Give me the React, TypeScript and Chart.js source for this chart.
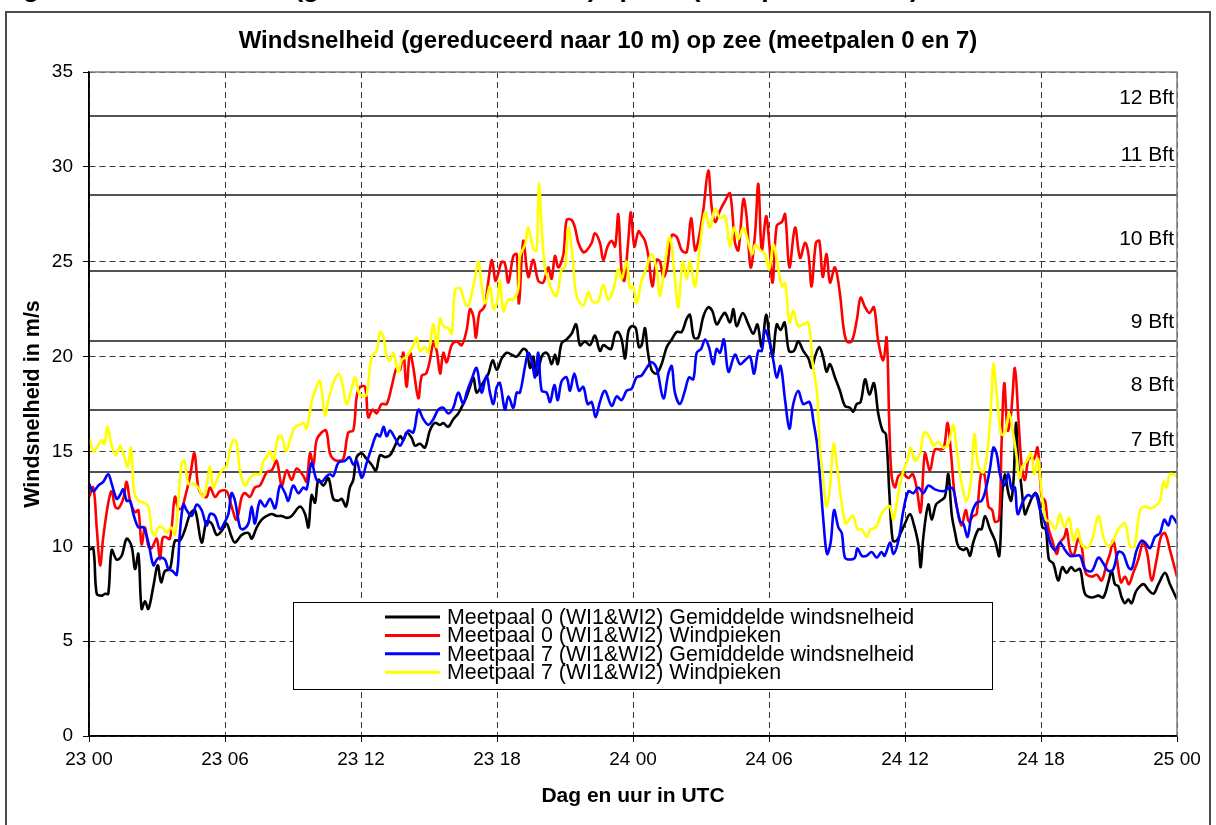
import React, { useEffect, useRef } from "react";
import { Chart, registerables } from "chart.js";

Chart.register(...registerables);

const FONT = '"Liberation Sans", Arial, Helvetica, sans-serif';

const pageCaption = "Figuur 3: Windsnelheid (gereduceerd naar 10 m) op zee (meetpalen 0 en 7)";
const chartTitle = "Windsnelheid (gereduceerd naar 10 m) op zee (meetpalen 0 en 7)";
const xAxisTitle = "Dag en uur in UTC";
const yAxisTitle = "Windsnelheid in m/s";
const xTickLabels = ["23 00", "23 06", "23 12", "23 18", "24 00", "24 06", "24 12", "24 18", "25 00"];

const seriesLabels = [
  "Meetpaal 0 (WI1&WI2) Gemiddelde windsnelheid",
  "Meetpaal 0 (WI1&WI2) Windpieken",
  "Meetpaal 7 (WI1&WI2) Gemiddelde windsnelheid",
  "Meetpaal 7 (WI1&WI2) Windpieken",
];
const seriesColors = ["#000000", "#FF0000", "#0000FF", "#FFFF00"];

const beaufortLimits = [13.9, 17.2, 20.8, 24.5, 28.5, 32.7];
const beaufortNames = ["7 Bft", "8 Bft", "9 Bft", "10 Bft", "11 Bft", "12 Bft"];
const beaufortLabelAt = [15.6, 18.5, 21.8, 26.2, 30.6, 33.6];

// [hour since 23 00 UTC, m/s]
const meetpaal0Gemiddeld: [number, number][] = [
  [0, 9.8], [0.19, 9.9], [0.34, 7.5], [0.56, 7.4], [0.71, 7.5], [0.85, 7.5], [1, 9.8], [1.22, 9.3], [1.44, 9.5], [1.66, 10.4],
  [1.88, 10.0], [2.03, 8.8], [2.18, 9.6], [2.32, 6.7], [2.47, 7.1], [2.62, 6.7], [2.84, 7.9], [3.03, 9.0], [3.18, 8.1], [3.35, 8.7],
  [3.57, 8.8], [3.79, 10.3], [4.01, 10.3], [4.24, 10.9], [4.46, 11.7], [4.68, 11.9], [4.97, 10.2], [5.19, 11.3], [5.41, 11.2], [5.63, 10.6],
  [5.85, 10.8], [6.07, 11.2], [6.29, 10.5], [6.44, 10.2], [6.74, 10.6], [7.03, 10.7], [7.18, 10.4], [7.4, 11.0], [7.62, 11.4], [7.84, 11.6],
  [8.06, 11.7], [8.28, 11.6], [8.5, 11.6], [8.72, 11.5], [8.94, 11.6], [9.31, 12.1], [9.53, 11.7], [9.68, 11.0], [9.82, 12.7], [9.97, 12.3],
  [10.12, 13.5], [10.34, 13.2], [10.56, 13.6], [10.78, 12.5], [11, 12.4], [11.15, 12.5], [11.34, 12.1], [11.51, 13.1], [11.66, 13.5], [11.81, 14.7],
  [12.03, 14.9], [12.25, 14.6], [12.47, 14.3], [12.66, 14.0], [12.84, 14.8], [13.06, 14.7], [13.28, 14.8], [13.5, 15.3], [13.72, 15.8], [13.87, 15.6],
  [14.01, 16.0], [14.24, 15.7], [14.38, 15.3], [14.6, 15.4], [14.82, 15.2], [15.04, 16.1], [15.26, 16.5], [15.49, 16.4], [15.63, 16.5], [15.85, 16.3],
  [16.07, 16.7], [16.29, 17.0], [16.51, 17.5], [16.66, 17.9], [16.81, 18.4], [16.96, 18.9], [17.1, 18.1], [17.32, 18.5], [17.47, 18.8], [17.62, 19.1],
  [17.81, 19.8], [17.99, 19.3], [18.21, 19.9], [18.43, 20.2], [18.65, 20.1], [18.87, 20.0], [19.16, 20.4], [19.31, 20.3], [19.46, 19.4], [19.6, 20.0],
  [19.75, 19.0], [19.97, 20.0], [20.12, 20.2], [20.26, 20.1], [20.41, 19.6], [20.56, 20.1], [20.68, 19.6], [20.85, 20.7], [21.07, 20.9], [21.29, 21.2],
  [21.49, 21.7], [21.66, 20.6], [21.88, 20.8], [22.1, 20.6], [22.32, 21.1], [22.54, 20.3], [22.69, 20.6], [22.84, 20.5], [23.03, 20.4], [23.21, 21.2],
  [23.35, 21.3], [23.5, 20.9], [23.65, 19.9], [23.79, 21.3], [23.94, 21.6], [24.12, 21.5], [24.26, 20.5], [24.38, 20.6], [24.53, 21.5], [24.65, 20.3],
  [24.82, 19.3], [25.04, 19.1], [25.26, 19.6], [25.49, 20.5], [25.71, 20.9], [25.93, 21.3], [26.15, 21.3], [26.37, 22.0], [26.51, 22.2], [26.69, 21.0],
  [26.88, 21.0], [27.1, 22.1], [27.32, 22.6], [27.5, 22.4], [27.69, 21.7], [27.91, 22.1], [28.06, 22.3], [28.28, 21.8], [28.43, 22.5], [28.57, 21.6],
  [28.84, 22.3], [29.09, 21.7], [29.31, 21.2], [29.49, 21.7], [29.68, 20.5], [29.87, 22.2], [30.04, 20.8], [30.16, 20.0], [30.34, 21.7], [30.51, 21.4],
  [30.69, 21.8], [30.88, 20.3], [31.1, 20.3], [31.29, 20.8], [31.51, 20.3], [31.74, 19.9], [31.88, 19.4], [32.03, 20.0], [32.22, 20.5], [32.4, 19.9],
  [32.54, 19.2], [32.69, 19.6], [32.91, 18.9], [33.13, 18.2], [33.35, 17.4], [33.57, 17.3], [33.72, 17.1], [33.87, 17.5], [34.04, 17.6], [34.24, 18.8],
  [34.43, 18.0], [34.63, 18.6], [34.82, 17.0], [35.01, 16.1], [35.16, 15.9], [35.31, 12.8], [35.46, 10.3], [35.63, 10.3], [35.81, 10.7], [36.0, 11.2],
  [36.22, 11.7], [36.4, 11.1], [36.59, 10.1], [36.69, 8.9], [36.81, 10.5], [37.03, 12.2], [37.18, 11.4], [37.37, 12.2], [37.57, 12.4], [37.76, 12.6],
  [37.91, 13.8], [38.06, 11.7], [38.21, 10.7], [38.35, 10.0], [38.57, 9.8], [38.72, 9.9], [38.87, 9.5], [39.01, 10.2], [39.24, 10.9], [39.38, 10.9],
  [39.53, 11.6], [39.75, 10.9], [39.97, 10.3], [40.16, 9.5], [40.29, 12.8], [40.41, 13.8], [40.56, 12.8], [40.68, 12.4], [40.79, 13.5], [40.9, 16.5],
  [41.0, 14.2], [41.1, 13.5], [41.29, 11.7], [41.44, 12.1], [41.62, 12.6], [41.76, 12.8], [41.91, 12.4], [42.06, 11.0], [42.21, 10.9], [42.35, 9.3],
  [42.54, 9.1], [42.76, 8.2], [42.94, 8.9], [43.13, 8.6], [43.32, 8.9], [43.5, 8.7], [43.72, 8.8], [43.94, 7.5], [44.24, 7.3], [44.53, 7.4],
  [44.75, 7.3], [44.97, 8.1], [45.12, 8.7], [45.26, 8.0], [45.41, 7.9], [45.56, 7.3], [45.71, 7.0], [45.85, 7.2], [46.0, 7.0], [46.18, 7.6],
  [46.37, 7.9], [46.54, 8.0], [46.74, 7.7], [46.96, 7.5], [47.18, 8.0], [47.47, 8.6], [47.69, 8.0], [48, 7.2],
];

const meetpaal0Pieken: [number, number][] = [
  [0, 12.6], [0.19, 13.1], [0.34, 11.0], [0.49, 9.0], [0.63, 10.5], [0.85, 12.3], [1, 12.9], [1.15, 12.1], [1.29, 12.0], [1.51, 12.5],
  [1.66, 13.4], [1.81, 12.4], [2.03, 11.8], [2.18, 11.9], [2.32, 10.1], [2.47, 11.0], [2.62, 10.0], [2.76, 9.9], [2.99, 10.4], [3.13, 9.3],
  [3.24, 10.4], [3.35, 10.5], [3.57, 10.4], [3.79, 12.6], [3.94, 12.0], [4.09, 12.0], [4.24, 12.6], [4.46, 13.7], [4.65, 14.9], [4.82, 13.1],
  [5.0, 12.7], [5.19, 12.6], [5.34, 13.1], [5.56, 12.6], [5.78, 12.9], [6.07, 12.9], [6.29, 12.1], [6.51, 11.4], [6.74, 12.6], [6.88, 12.8],
  [7.1, 12.6], [7.32, 13.1], [7.54, 13.2], [7.84, 13.9], [8.06, 14.0], [8.28, 14.5], [8.5, 13.2], [8.72, 14.0], [8.94, 13.5], [9.16, 14.1],
  [9.46, 13.7], [9.6, 13.4], [9.75, 14.9], [9.9, 14.3], [10.04, 15.6], [10.26, 16.0], [10.46, 16.1], [10.63, 14.9], [10.78, 14.6], [11.0, 14.5],
  [11.22, 14.6], [11.44, 16.0], [11.66, 16.1], [11.81, 17.9], [11.96, 18.4], [12.18, 18.4], [12.32, 16.8], [12.51, 17.2], [12.69, 17.0], [12.91, 17.5],
  [13.13, 17.5], [13.35, 18.4], [13.57, 19.4], [13.72, 19.3], [13.87, 20.2], [14.01, 18.4], [14.16, 20.2], [14.31, 19.4], [14.53, 17.8], [14.68, 19.0],
  [14.87, 19.1], [15.04, 19.8], [15.19, 20.7], [15.34, 20.3], [15.49, 19.1], [15.63, 20.2], [15.78, 19.7], [16.0, 20.6], [16.22, 20.8], [16.44, 20.6],
  [16.66, 21.4], [16.81, 22.5], [16.96, 22.1], [17.07, 21.0], [17.22, 22.3], [17.37, 22.5], [17.47, 22.7], [17.62, 24.0], [17.78, 25.1], [17.93, 24.0],
  [18.06, 24.4], [18.21, 25.0], [18.35, 24.9], [18.5, 23.9], [18.72, 25.3], [18.87, 25.4], [18.97, 22.8], [19.16, 26.1], [19.38, 24.2], [19.6, 25.1],
  [19.82, 24.0], [20.04, 23.9], [20.26, 24.7], [20.41, 24.1], [20.56, 25.3], [20.71, 24.7], [20.93, 25.4], [21.07, 27.2], [21.29, 27.2], [21.44, 26.8],
  [21.59, 26.0], [21.81, 25.5], [21.96, 25.6], [22.18, 26.0], [22.32, 26.5], [22.54, 26.0], [22.69, 25.1], [22.88, 25.8], [23.06, 26.1], [23.21, 25.8],
  [23.35, 27.5], [23.5, 24.4], [23.62, 24.0], [23.79, 26.1], [23.91, 27.6], [24.06, 25.8], [24.24, 26.6], [24.38, 26.4], [24.53, 26.1], [24.68, 25.3],
  [24.85, 23.7], [25.04, 25.1], [25.19, 25.0], [25.34, 24.2], [25.49, 24.6], [25.71, 26.4], [25.93, 26.3], [26.15, 25.6], [26.37, 25.5], [26.56, 27.3],
  [26.74, 25.6], [26.88, 26.1], [27.1, 27.7], [27.32, 29.8], [27.47, 27.9], [27.62, 27.1], [27.84, 27.7], [28.06, 28.2], [28.28, 28.6], [28.5, 26.0],
  [28.65, 25.6], [28.87, 28.3], [29.01, 27.4], [29.19, 24.7], [29.38, 26.4], [29.53, 29.1], [29.68, 25.6], [29.87, 27.4], [30.01, 26.0], [30.16, 23.9],
  [30.34, 26.9], [30.57, 27.1], [30.71, 27.5], [30.9, 24.7], [31.15, 26.8], [31.37, 25.2], [31.59, 26.0], [31.74, 25.4], [31.88, 23.7], [32.07, 26.0],
  [32.22, 26.1], [32.37, 24.2], [32.54, 25.4], [32.69, 23.9], [32.91, 24.7], [33.13, 23.3], [33.28, 21.6], [33.43, 20.8], [33.65, 20.8], [33.87, 21.9],
  [34.04, 23.1], [34.24, 22.6], [34.43, 22.3], [34.63, 22.6], [34.82, 20.8], [35.04, 19.8], [35.19, 21.0], [35.31, 16.3], [35.41, 13.7], [35.56, 13.1],
  [35.71, 13.7], [35.93, 13.8], [36.15, 13.6], [36.34, 13.8], [36.51, 13.1], [36.69, 11.8], [36.88, 14.9], [37.1, 14.0], [37.32, 15.1], [37.57, 15.1],
  [37.72, 15.2], [37.88, 16.5], [38.03, 14.9], [38.18, 12.8], [38.35, 11.7], [38.5, 11.1], [38.68, 11.9], [38.82, 11.3], [39.01, 11.6], [39.16, 11.7],
  [39.35, 13.8], [39.5, 13.8], [39.68, 12.1], [39.85, 11.9], [39.97, 11.3], [40.15, 11.4], [40.26, 15.4], [40.38, 18.6], [40.53, 16.1], [40.68, 17.0],
  [40.85, 19.4], [41.0, 16.8], [41.15, 14.2], [41.29, 13.5], [41.47, 14.7], [41.68, 14.6], [41.85, 15.2], [42.03, 12.6], [42.18, 12.4], [42.32, 11.0],
  [42.5, 10.3], [42.69, 9.6], [42.84, 10.2], [43.03, 10.5], [43.13, 10.9], [43.28, 9.8], [43.43, 9.5], [43.65, 10.4], [43.79, 10.0], [43.97, 8.6],
  [44.24, 8.4], [44.46, 8.5], [44.68, 8.2], [44.9, 9.1], [45.04, 9.6], [45.19, 10.3], [45.35, 9.3], [45.53, 8.1], [45.71, 8.4], [45.88, 8.0],
  [46.07, 8.6], [46.29, 9.3], [46.51, 10.2], [46.69, 9.6], [46.88, 8.2], [47.1, 9.3], [47.29, 10.5], [47.47, 10.7], [47.69, 9.8], [48, 8.4],
];

const meetpaal7Gemiddeld: [number, number][] = [
  [0, 13.3], [0.19, 12.9], [0.41, 13.2], [0.63, 13.4], [0.85, 13.8], [1, 13.3], [1.22, 12.5], [1.37, 12.7], [1.51, 13.0], [1.66, 12.4],
  [1.81, 12.4], [1.96, 11.7], [2.18, 11.0], [2.4, 11.0], [2.62, 10.2], [2.84, 9.0], [2.99, 9.3], [3.13, 9.4], [3.35, 9.3], [3.5, 8.8],
  [3.68, 8.7], [3.87, 8.5], [4.01, 10.7], [4.16, 12.2], [4.31, 11.9], [4.53, 11.6], [4.75, 12.2], [4.97, 11.9], [5.19, 11.1], [5.34, 11.7],
  [5.56, 11.6], [5.78, 10.9], [6.0, 11.3], [6.15, 11.7], [6.29, 12.8], [6.44, 12.4], [6.66, 11.0], [6.81, 10.9], [7.03, 11.2], [7.18, 12.1],
  [7.32, 11.2], [7.54, 12.4], [7.76, 12.1], [7.99, 12.5], [8.21, 12.0], [8.43, 13.2], [8.65, 12.8], [8.79, 12.4], [9.01, 13.2], [9.24, 12.8],
  [9.46, 13.1], [9.6, 13.0], [9.82, 14.4], [10.04, 13.5], [10.26, 13.4], [10.49, 13.7], [10.63, 13.8], [10.78, 13.7], [11.0, 14.4], [11.29, 14.5],
  [11.49, 14.7], [11.66, 14.3], [11.81, 14.5], [12.03, 13.6], [12.25, 14.4], [12.47, 15.2], [12.69, 15.9], [12.84, 15.8], [13.0, 16.3], [13.13, 15.8],
  [13.28, 16.1], [13.5, 15.7], [13.72, 15.3], [13.87, 15.6], [14.09, 16.1], [14.31, 16.0], [14.53, 17.2], [14.75, 16.7], [14.97, 16.4], [15.19, 16.7],
  [15.41, 17.2], [15.63, 17.3], [15.85, 17.0], [16.07, 17.3], [16.29, 18.1], [16.51, 17.5], [16.66, 18.1], [16.88, 18.8], [17.1, 19.4], [17.32, 18.1],
  [17.54, 19.0], [17.69, 18.1], [17.84, 17.5], [17.99, 18.4], [18.13, 18.6], [18.35, 17.2], [18.5, 17.9], [18.72, 17.3], [18.87, 18.1], [19.01, 18.1],
  [19.24, 19.5], [19.38, 20.2], [19.53, 19.8], [19.68, 18.9], [19.82, 20.2], [19.97, 18.2], [20.19, 18.1], [20.34, 17.6], [20.53, 18.5], [20.68, 17.7],
  [20.85, 18.7], [21.07, 18.9], [21.22, 18.2], [21.41, 19.1], [21.62, 18.2], [21.81, 18.4], [22.0, 17.5], [22.18, 17.6], [22.35, 16.8], [22.54, 17.6],
  [22.76, 18.2], [23.06, 17.4], [23.28, 17.9], [23.5, 17.7], [23.72, 18.2], [23.94, 18.3], [24.15, 18.9], [24.38, 19.0], [24.6, 19.4], [24.82, 19.7],
  [25.04, 19.4], [25.34, 17.8], [25.56, 19.1], [25.71, 19.5], [25.85, 18.1], [26.07, 17.5], [26.29, 18.2], [26.47, 18.9], [26.66, 18.8], [26.81, 20.2],
  [27.0, 20.4], [27.18, 20.9], [27.35, 20.5], [27.54, 19.6], [27.69, 20.4], [27.84, 20.2], [28.01, 20.9], [28.21, 19.2], [28.5, 20.1], [28.72, 19.6],
  [28.94, 19.8], [29.16, 20.0], [29.34, 19.1], [29.53, 20.3], [29.68, 20.3], [29.82, 21.4], [30.01, 20.8], [30.19, 19.8], [30.34, 18.9], [30.51, 19.5],
  [30.71, 17.7], [30.9, 16.2], [31.07, 17.5], [31.29, 18.2], [31.51, 17.5], [31.79, 17.6], [31.97, 16.5], [32.12, 15.4], [32.26, 13.5], [32.41, 11.2],
  [32.56, 9.6], [32.72, 10.2], [32.87, 11.9], [33.06, 11.0], [33.21, 10.7], [33.35, 9.4], [33.57, 9.3], [33.79, 9.4], [33.9, 9.9], [34.09, 9.5],
  [34.31, 9.5], [34.53, 9.7], [34.75, 9.4], [34.96, 9.7], [35.1, 9.5], [35.34, 10.2], [35.49, 9.6], [35.71, 10.3], [35.93, 11.9], [36.15, 12.9],
  [36.37, 12.8], [36.59, 13.1], [36.81, 12.8], [37.03, 13.2], [37.32, 13.0], [37.69, 12.9], [37.98, 13.1], [38.13, 13.0], [38.28, 12.1], [38.43, 11.3],
  [38.57, 11.2], [38.76, 10.5], [38.94, 11.7], [39.16, 12.3], [39.38, 12.4], [39.56, 13.0], [39.75, 14.1], [39.9, 15.2], [40.04, 14.9], [40.19, 13.8],
  [40.38, 13.2], [40.56, 13.8], [40.71, 13.0], [40.85, 13.1], [40.97, 11.7], [41.22, 12.4], [41.44, 12.7], [41.62, 12.6], [41.76, 12.8], [41.96, 11.9],
  [42.18, 11.2], [42.4, 10.2], [42.63, 9.8], [42.84, 10.2], [43.06, 9.8], [43.28, 9.5], [43.5, 9.5], [43.72, 9.5], [43.94, 8.8], [44.24, 8.7],
  [44.53, 9.4], [44.75, 9.1], [44.97, 8.7], [45.19, 8.8], [45.41, 9.7], [45.63, 9.6], [45.85, 8.9], [46.0, 8.8], [46.22, 9.8], [46.44, 10.3],
  [46.59, 10.2], [46.81, 9.9], [47.03, 10.5], [47.25, 10.7], [47.44, 11.4], [47.62, 11.1], [47.76, 11.6], [48, 11.2],
];

const meetpaal7Pieken: [number, number][] = [
  [0, 15.7], [0.19, 15.0], [0.34, 15.2], [0.56, 15.6], [0.68, 15.4], [0.82, 16.3], [1, 15.3], [1.18, 14.8], [1.37, 15.3], [1.56, 14.7],
  [1.71, 14.2], [1.85, 15.2], [2.0, 12.8], [2.18, 12.4], [2.4, 12.3], [2.62, 12.1], [2.76, 10.9], [2.91, 10.6], [3.06, 11.0], [3.24, 11.0],
  [3.43, 10.7], [3.62, 11.0], [3.79, 10.6], [3.94, 12.4], [4.09, 14.4], [4.21, 14.5], [4.38, 13.3], [4.6, 13.3], [4.82, 13.1], [5.04, 12.6],
  [5.19, 13.2], [5.34, 14.2], [5.49, 13.1], [5.71, 13.7], [5.93, 14.1], [6.07, 14.2], [6.22, 15.1], [6.37, 15.6], [6.51, 15.5], [6.66, 14.0],
  [6.88, 13.2], [7.1, 13.6], [7.32, 13.8], [7.54, 13.8], [7.69, 14.5], [7.84, 14.7], [7.99, 15.0], [8.13, 14.5], [8.35, 15.8], [8.5, 15.8],
  [8.69, 15.0], [8.87, 15.6], [9.09, 16.3], [9.31, 16.4], [9.46, 16.5], [9.6, 16.2], [9.82, 17.6], [9.97, 18.2], [10.19, 18.7], [10.41, 16.9],
  [10.56, 17.7], [10.78, 18.6], [11.0, 19.1], [11.15, 18.7], [11.37, 17.5], [11.6, 18.4], [11.75, 18.9], [11.9, 18.1], [12.1, 17.9], [12.25, 18.0],
  [12.47, 20.0], [12.69, 20.3], [12.84, 21.3], [13.0, 21.0], [13.13, 20.0], [13.28, 19.8], [13.43, 20.2], [13.65, 19.2], [13.79, 19.8], [14.01, 20.0],
  [14.24, 20.4], [14.46, 21.0], [14.6, 20.3], [14.82, 20.5], [14.97, 20.2], [15.19, 21.7], [15.34, 20.5], [15.49, 22.0], [15.63, 21.6], [15.85, 21.5],
  [16.0, 21.2], [16.15, 23.5], [16.37, 23.6], [16.6, 22.8], [16.74, 22.7], [16.96, 23.7], [17.18, 25.0], [17.32, 23.8], [17.47, 22.8], [17.69, 23.7],
  [17.84, 22.5], [17.99, 22.8], [18.13, 24.0], [18.28, 22.4], [18.5, 23.0], [18.72, 23.0], [18.94, 23.6], [19.01, 25.3], [19.24, 25.9], [19.38, 26.8],
  [19.6, 25.7], [19.75, 25.6], [19.85, 29.1], [19.97, 26.8], [20.12, 24.6], [20.26, 24.1], [20.41, 23.5], [20.63, 23.2], [20.85, 24.6], [21.0, 24.7],
  [21.15, 26.8], [21.32, 25.4], [21.51, 23.2], [21.81, 22.7], [22.03, 23.4], [22.21, 22.9], [22.47, 22.9], [22.69, 23.8], [22.9, 23.0], [23.12, 23.5],
  [23.35, 24.6], [23.5, 24.1], [23.72, 25.0], [23.87, 23.6], [24.01, 23.7], [24.16, 22.8], [24.38, 24.0], [24.6, 24.7], [24.82, 25.4], [25.04, 24.6],
  [25.19, 23.2], [25.41, 25.0], [25.63, 26.3], [25.85, 24.1], [26.0, 22.6], [26.19, 25.0], [26.37, 24.1], [26.51, 25.0], [26.74, 23.7], [26.96, 25.9],
  [27.18, 27.6], [27.4, 26.8], [27.62, 27.8], [27.84, 27.3], [28.06, 27.4], [28.28, 25.8], [28.46, 26.8], [28.65, 26.2], [28.87, 26.8], [29.09, 26.0],
  [29.25, 25.4], [29.4, 25.9], [29.62, 25.6], [29.82, 25.4], [30.01, 24.6], [30.19, 25.9], [30.37, 24.9], [30.57, 23.7], [30.71, 23.9], [30.9, 21.8],
  [31.07, 22.4], [31.29, 21.6], [31.51, 21.7], [31.74, 21.8], [31.93, 19.6], [32.12, 18.1], [32.24, 15.2], [32.38, 13.7], [32.53, 12.1], [32.68, 13.0],
  [32.85, 15.4], [33.0, 14.2], [33.19, 12.4], [33.38, 11.2], [33.53, 11.4], [33.71, 11.6], [33.9, 10.9], [34.09, 10.9], [34.31, 10.5], [34.49, 10.9],
  [34.72, 11.0], [34.96, 11.7], [35.15, 12.0], [35.34, 12.1], [35.49, 11.4], [35.71, 12.8], [35.93, 14.0], [36.1, 14.5], [36.25, 15.2], [36.44, 14.5],
  [36.66, 14.9], [36.85, 16.0], [37.07, 15.8], [37.25, 15.3], [37.47, 15.5], [37.69, 15.2], [37.91, 15.4], [38.13, 16.4], [38.28, 15.1], [38.5, 13.3],
  [38.72, 12.4], [38.91, 13.5], [39.06, 15.9], [39.24, 14.2], [39.46, 13.9], [39.65, 15.2], [39.79, 17.2], [39.9, 19.6], [40.04, 18.1], [40.24, 15.9],
  [40.41, 16.0], [40.6, 17.0], [40.79, 15.8], [40.94, 14.6], [41.04, 13.6], [41.18, 14.2], [41.38, 14.5], [41.56, 14.9], [41.71, 13.8], [41.87, 14.6],
  [42.03, 12.8], [42.21, 11.4], [42.4, 11.3], [42.63, 10.9], [42.84, 11.7], [43.03, 11.0], [43.24, 11.5], [43.43, 10.3], [43.62, 10.9], [43.79, 10.1],
  [44.01, 9.9], [44.24, 10.3], [44.53, 11.6], [44.75, 10.5], [44.97, 10.0], [45.19, 10.3], [45.41, 10.9], [45.71, 11.2], [45.93, 10.0], [46.12, 10.0],
  [46.37, 11.9], [46.59, 12.1], [46.81, 12.0], [47.03, 12.1], [47.25, 12.4], [47.4, 13.4], [47.54, 13.1], [47.69, 13.8], [48, 13.7],
];

const seriesData = [meetpaal0Gemiddeld, meetpaal0Pieken, meetpaal7Gemiddeld, meetpaal7Pieken];

const beaufortPlugin = {
  id: "beaufort",
  beforeDatasetsDraw(chart: any) {
    const { ctx, chartArea: a, scales } = chart;
    const y = scales.y;
    ctx.save();
    ctx.strokeStyle = "#1a1a1a";
    ctx.lineWidth = 1.5;
    beaufortLimits.forEach((v) => {
      const py = Math.round(y.getPixelForValue(v));
      ctx.beginPath();
      ctx.moveTo(a.left, py);
      ctx.lineTo(a.right, py);
      ctx.stroke();
    });
    ctx.fillStyle = "#000";
    ctx.font = `21px ${FONT}`;
    ctx.textAlign = "right";
    ctx.textBaseline = "middle";
    beaufortNames.forEach((n, i) => {
      ctx.fillText(n, a.right - 3, y.getPixelForValue(beaufortLabelAt[i]));
    });
    ctx.restore();
  },
};

const framePlugin = {
  id: "frame",
  afterDatasetsDraw(chart: any) {
    const { ctx, chartArea: a } = chart;
    ctx.save();
    ctx.strokeStyle = "#808080";
    ctx.lineWidth = 1.5;
    ctx.beginPath();
    ctx.moveTo(a.left, a.top);
    ctx.lineTo(a.right, a.top);
    ctx.lineTo(a.right, a.bottom);
    ctx.stroke();
    ctx.strokeStyle = "#000";
    ctx.lineWidth = 1.5;
    ctx.beginPath();
    ctx.moveTo(a.left, a.top);
    ctx.lineTo(a.left, a.bottom);
    ctx.lineTo(a.right, a.bottom);
    ctx.stroke();
    ctx.restore();
  },
};

const legendBoxPlugin = {
  id: "legendBox",
  afterDraw(chart: any) {
    const { ctx, chartArea: a } = chart;
    const left = a.left + 204;
    const top = a.top + 530;
    const w = 699;
    const h = 87;
    ctx.save();
    ctx.fillStyle = "#fff";
    ctx.fillRect(left, top, w, h);
    ctx.strokeStyle = "#000";
    ctx.lineWidth = 1;
    ctx.strokeRect(left + 0.5, top + 0.5, w, h);
    ctx.font = `21.4px ${FONT}`;
    ctx.textAlign = "left";
    ctx.textBaseline = "middle";
    chart.data.datasets.forEach((ds: any, i: number) => {
      if (!ds.label) return;
      const yy = top + 15 + i * 18.4;
      ctx.strokeStyle = ds.borderColor;
      ctx.lineWidth = 3;
      ctx.beginPath();
      ctx.moveTo(left + 92, yy);
      ctx.lineTo(left + 147, yy);
      ctx.stroke();
      ctx.fillStyle = "#000";
      ctx.fillText(ds.label, left + 154, yy + 1);
    });
    ctx.restore();
  },
};

export default function App() {
  const canvasRef = useRef<HTMLCanvasElement | null>(null);

  useEffect(() => {
    document.documentElement.style.overflow = "hidden";
    const canvas = canvasRef.current;
    if (!canvas) return;
    const chart = new Chart(canvas, {
      type: "line",
      data: {
        datasets: seriesData.map((s, i) => ({
          label: seriesLabels[i],
          data: s.map(([h, v]) => ({ x: h, y: v })),
          borderColor: seriesColors[i],
          backgroundColor: seriesColors[i],
          borderWidth: 2.6,
          pointRadius: 0,
          tension: 0.35,
          fill: false,
          order: 4 - i,
          xAxisID: "x",
          yAxisID: "y",
        })),
      },
      options: {
        animation: false,
        responsive: false,
        devicePixelRatio: 1,
        layout: { padding: 0 },
        plugins: {
          legend: { display: false },
          tooltip: { enabled: false },
          title: {
            display: true,
            text: chartTitle,
            color: "#000",
            font: { family: FONT, size: 24, weight: "bold" },
            padding: { top: 13.6, bottom: 16.6 },
          },
        },
        scales: {
          x: {
            type: "linear",
            min: 0,
            max: 48,
            afterFit: (s: any) => {
              s.height = 89;
            },
            ticks: {
              stepSize: 6,
              autoSkip: false,
              maxRotation: 0,
              color: "#000",
              padding: 6,
              font: { family: FONT, size: 19 },
              callback: (v: any) => xTickLabels[Math.round(Number(v) / 6)] ?? "",
            },
            grid: {
              color: "#3a3a3a",
              lineWidth: 1,
              tickLength: 6,
              tickColor: "#000",
              tickBorderDash: [],
            },
            border: { display: true, color: "#000", width: 1.5, dash: [6, 4] },
            title: {
              display: true,
              text: xAxisTitle,
              color: "#000",
              font: { family: FONT, size: 21, weight: "bold" },
              padding: { top: 0, bottom: 15.7 },
            },
          },
          y: {
            type: "linear",
            position: "left",
            min: 0,
            max: 35,
            afterFit: (s: any) => {
              s.width = 82;
            },
            ticks: {
              stepSize: 5,
              color: "#000",
              padding: 10,
              font: { family: FONT, size: 19 },
            },
            grid: {
              color: "#3a3a3a",
              lineWidth: 1,
              tickLength: 6,
              tickColor: "#000",
              tickBorderDash: [],
            },
            border: { display: true, color: "#000", width: 1.5, dash: [6, 4] },
            title: {
              display: true,
              text: yAxisTitle,
              color: "#000",
              font: { family: FONT, size: 21.5, weight: "bold" },
              padding: { top: 13.5, bottom: 0 },
            },
          },
          yRight: {
            type: "linear",
            position: "right",
            display: true,
            afterFit: (s: any) => {
              s.width = 32;
            },
            ticks: { display: false },
            grid: { display: false, drawOnChartArea: false, drawTicks: false },
            border: { display: false },
            title: { display: false },
          },
        },
      },
      plugins: [beaufortPlugin, framePlugin, legendBoxPlugin],
    } as any);
    return () => chart.destroy();
  }, []);

  return (
    <div>
      <div
        style={{
          position: "absolute",
          left: 0,
          top: -25,
          font: `bold 26px ${FONT}`,
          lineHeight: "26px",
          whiteSpace: "nowrap",
          color: "#000",
        }}
      >
        {pageCaption}
      </div>
      <div
        style={{
          position: "absolute",
          left: 5,
          top: 11,
          width: 1202,
          height: 812,
          border: "2px solid #4a4a4a",
          background: "#fff",
        }}
      >
        <canvas ref={canvasRef} width={1202} height={812} style={{ display: "block", width: 1202, height: 812 }} />
      </div>
    </div>
  );
}
